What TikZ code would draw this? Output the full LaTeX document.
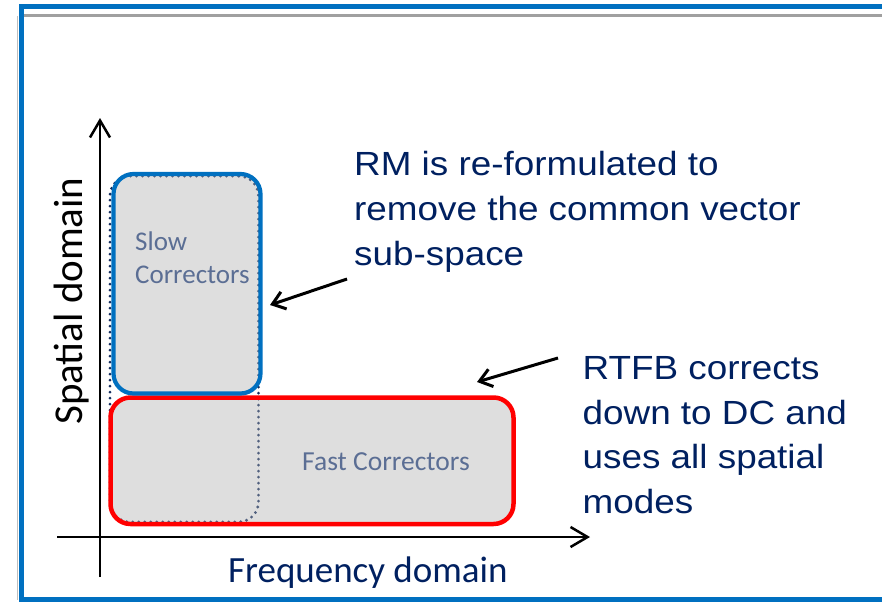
\documentclass[tikz,border=0pt]{standalone}
\usepackage{fontspec}
\setmainfont{Carlito}
\newfontfamily\notefont[FakeStretch=1.1]{Liberation Sans}
\usetikzlibrary{arrows.meta}

\definecolor{frameblue}{RGB}{0,112,192}
\definecolor{rulegray}{RGB}{160,160,160}
\definecolor{navytext}{RGB}{0,32,96}
\definecolor{slate}{RGB}{91,110,148}
\definecolor{dotnavy}{RGB}{20,45,95}
\definecolor{bandfill}{RGB}{173,173,173}
\definecolor{boxred}{RGB}{255,0,0}

\begin{document}
\begin{tikzpicture}[x=1pt,y=-1pt,
  region/.style={draw, line width=4.2pt, fill=bandfill, fill opacity=0.4,
    draw opacity=1, rounded corners=20pt, inner sep=0pt, outer sep=0pt},
  band/.style={draw=dotnavy, line width=3.2pt, line cap=round,
    dash pattern=on 0pt off 6pt, rounded corners=20pt, inner sep=0pt, outer sep=0pt},
  axis/.style={line width=2.5pt, -{Straight Barb[length=17pt,width=20pt]}},
  callout/.style={line width=3pt, -{Straight Barb[length=12pt,width=18pt]}},
  boxlabel/.style={anchor=base west, inner sep=0pt, text=slate},
  note/.style={anchor=base west, inner sep=0pt, text=navytext,
    font=\notefont\fontsize{33.5}{44.7}\selectfont}]

\useasboundingbox (0,0) rectangle (882,603);

% slide frame
\draw[black!25, line width=1.5pt] (17.5,16) -- (17.5,600);
\draw[rulegray, line width=3.5pt] (23,15.5) -- (882,15.5);
\draw[frameblue, line width=4.5pt] (882,6.5) -- (21.5,6.5) -- (21.5,599.5) -- (882,599.5);

% dotted band of the slow correctors across all frequencies
\node[band, minimum width=148.5, minimum height=346] (band) at (184.25,349) {};

% corrector regions
\node[region, draw=boxred, line width=4.5pt, minimum width=403, minimum height=126.5]
  (fast) at (312,460.75) {};
\node[region, draw=frameblue, minimum width=147, minimum height=219.5]
  (slow) at (187,283.75) {};

\node[boxlabel, font=\fontsize{27}{33}\selectfont] (slowlbl) at (135,250)
  {\begin{tabular}[t]{@{}l@{}}Slow\\Correctors\end{tabular}};
\node[boxlabel, font=\fontsize{27.5}{33}\selectfont] (fastlbl) at (302,470)
  {Fast Correctors};

% axes
\coordinate (ybot) at (100,577);
\coordinate (ytop) at (100,118);
\coordinate (xleft) at (57,537);
\coordinate (xright) at (590,537);
\draw[axis] (ybot) -- (ytop);
\draw[axis] (xleft) -- (xright);

\node[rotate=90, anchor=base, inner sep=0pt, font=\fontsize{41}{48}\selectfont]
  (ylbl) at (82,301) {Spatial domain};
\node[anchor=base west, inner sep=0pt, text=navytext, font=\fontsize{37}{44}\selectfont]
  (xlbl) at (228,582) {Frequency domain};

% notes
\node[note] (rmnote) at (354,175.7)
  {\begin{tabular}[t]{@{}l@{}}RM is re-formulated to\\remove the common vector\\sub-space\end{tabular}};
\node[note] (rtfbnote) at (582.5,379.3)
  {\begin{tabular}[t]{@{}l@{}}RTFB corrects\\down to DC and\\uses all spatial\\modes\end{tabular}};

\coordinate (rmtail) at (347,279);
\coordinate (rmhead) at (270,305);
\coordinate (rtfbtail) at (558,358);
\coordinate (rtfbhead) at (477,382);
\draw[callout] (rmtail) -- (rmhead);
\draw[callout] (rtfbtail) -- (rtfbhead);

\end{tikzpicture}
\end{document}
